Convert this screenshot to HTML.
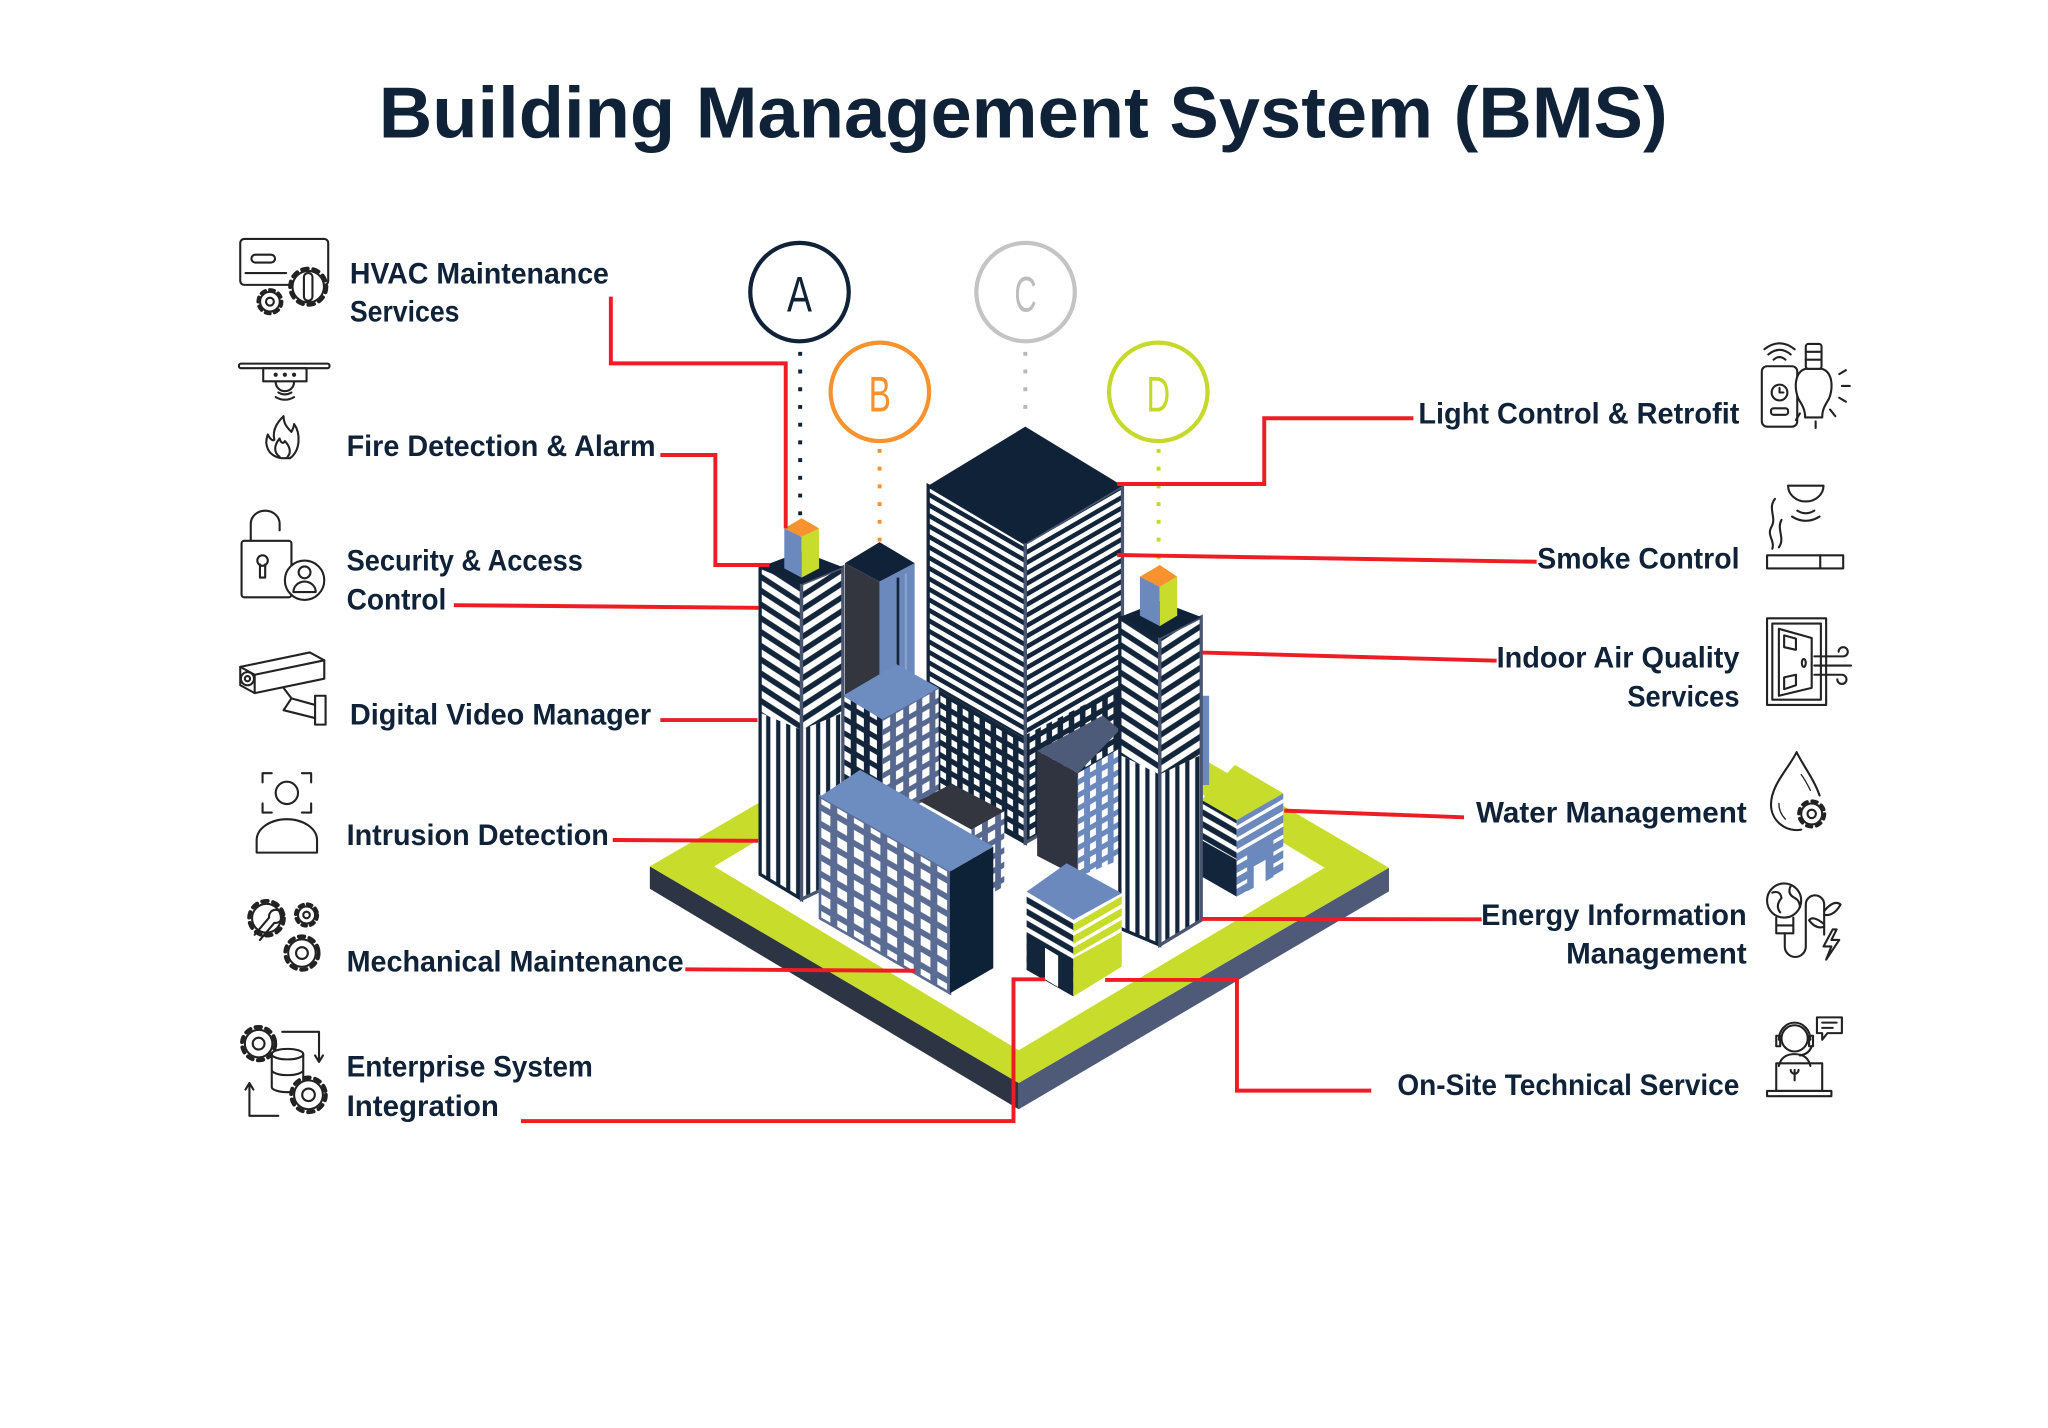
<!DOCTYPE html>
<html><head><meta charset="utf-8">
<style>html,body{margin:0;padding:0;background:#fff;overflow:hidden}svg{display:block}</style>
</head>
<body>
<svg xmlns="http://www.w3.org/2000/svg" width="2048" height="1428" viewBox="0 0 1560 1087.8" preserveAspectRatio="none">
<defs>
<pattern id="sLc" width="40" height="8" patternUnits="userSpaceOnUse" patternTransform="skewY(30)"><rect width="40" height="8" fill="#13253b"/><rect y="2.2" width="40" height="4" fill="#fff"/></pattern>
<pattern id="sRc" width="40" height="8" patternUnits="userSpaceOnUse" patternTransform="skewY(-30)"><rect width="40" height="8" fill="#13253b"/><rect y="2.2" width="40" height="4" fill="#fff"/></pattern>
<pattern id="sLa" width="40" height="10.5" patternUnits="userSpaceOnUse" patternTransform="skewY(33)"><rect width="40" height="10.5" fill="#13253b"/><rect y="2.5" width="40" height="5.5" fill="#fff"/></pattern>
<pattern id="sRa" width="40" height="10.5" patternUnits="userSpaceOnUse" patternTransform="skewY(-33)"><rect width="40" height="10.5" fill="#13253b"/><rect y="2.5" width="40" height="5.5" fill="#fff"/></pattern>
<pattern id="vs" width="7.6" height="10" patternUnits="userSpaceOnUse"><rect width="7.6" height="10" fill="#13253b"/><rect x="1.6" width="4.4" height="10" fill="#fff"/></pattern>
<pattern id="gL" width="12.7" height="12.7" patternUnits="userSpaceOnUse" patternTransform="skewY(30)"><rect width="12.7" height="12.7" fill="#5a6c93"/><rect x="2.8" y="2.6" width="7.4" height="7.6" fill="#fff"/></pattern>
<pattern id="gC" width="8.5" height="9.5" patternUnits="userSpaceOnUse" patternTransform="skewY(30)"><rect width="8.5" height="9.5" fill="#13253b"/><rect x="2.3" y="2.3" width="4.3" height="5" fill="#fff"/></pattern>
<pattern id="gCR" width="8.5" height="9.5" patternUnits="userSpaceOnUse" patternTransform="skewY(-30)"><rect width="8.5" height="9.5" fill="#13253b"/><rect x="2.3" y="2.3" width="4.3" height="5" fill="#fff"/></pattern>
<pattern id="gBn" width="10" height="11" patternUnits="userSpaceOnUse" patternTransform="skewY(30)"><rect width="10" height="11" fill="#13253b"/><rect x="2.5" y="2.5" width="5.5" height="6.5" fill="#fff"/></pattern>
<pattern id="gBb" width="10" height="11" patternUnits="userSpaceOnUse" patternTransform="skewY(-30)"><rect width="10" height="11" fill="#56688f"/><rect x="2.5" y="2.5" width="5.5" height="6.5" fill="#fff"/></pattern>
<pattern id="gMR" width="9" height="10" patternUnits="userSpaceOnUse" patternTransform="skewY(-30)"><rect width="9" height="10" fill="#6b89bd"/><rect x="2.3" y="2.3" width="4.5" height="5.5" fill="#fff"/></pattern>
<pattern id="hsN" width="40" height="9" patternUnits="userSpaceOnUse" patternTransform="skewY(30)"><rect width="40" height="9" fill="#13253b"/><rect y="2.5" width="40" height="4" fill="#fff"/></pattern>
<pattern id="hsB" width="40" height="9" patternUnits="userSpaceOnUse" patternTransform="skewY(-30)"><rect width="40" height="9" fill="#6b89bd"/><rect y="3" width="40" height="3" fill="#fff"/></pattern>
<pattern id="hsL" width="40" height="9" patternUnits="userSpaceOnUse" patternTransform="skewY(-30)"><rect width="40" height="9" fill="#c8dc2c"/><rect y="3" width="40" height="3" fill="#fff"/></pattern>
</defs>

<rect width="1560" height="1087.8" fill="#fff"/>

<!-- Title -->
<text x="288.5" y="104.6" font-family="Liberation Sans, Arial, sans-serif" font-weight="700" font-size="55" fill="#0f2238" textLength="981.8" lengthAdjust="spacingAndGlyphs">Building Management System (BMS)</text>

<!-- Platform -->
<polygon points="495,660 776,825 776,845 495,677" fill="#2d3545"/>
<polygon points="776,825 1058,661 1058,679 776,845" fill="#4e5a78"/>
<polygon points="495,660 776,496 1058,661 776,825" fill="#c8dc2c"/>
<polygon points="544,660 776,521 1009,661 776,800" fill="#fff"/>

<!-- dotted lines -->
<g stroke-width="3" stroke-dasharray="3 10.5" fill="none">
<line x1="609.5" y1="268" x2="609.5" y2="395" stroke="#0f2238"/>
<line x1="670" y1="342" x2="670" y2="413" stroke="#f7922e"/>
<line x1="781" y1="268" x2="781" y2="322" stroke="#b8b8b8"/>
<line x1="882.5" y1="342" x2="882.5" y2="430" stroke="#c5d92b"/>
</g>

<!-- Tower B (back) -->
<polygon points="643.6,429 670,443 670,620 643.6,606" fill="#33363f"/>
<polygon points="670,443 696.7,429 696.7,606 670,620" fill="#6b89bd"/>
<line x1="684" y1="440" x2="684" y2="610" stroke="#13253b" stroke-width="2"/>
<line x1="690" y1="437" x2="690" y2="608" stroke="#8aa3cf" stroke-width="1.5"/>
<polygon points="670,413 643.6,429 670,443 696.7,429" fill="#0f2238"/>

<!-- Tower C -->
<polygon points="707,370 781,414 781,563 707,521" fill="url(#sLc)"/>
<polygon points="707,521 781,563 781,642 707,600" fill="url(#gC)"/>
<polygon points="781,414 855,370 855,522 781,560" fill="url(#sRc)"/>
<polygon points="781,560 855,522 855,600 781,642" fill="url(#gCR)"/>
<polygon points="707,370 781,414 781,642 707,600" fill="none" stroke="#13253b" stroke-width="2.5"/>
<polygon points="781,414 855,370 855,600 781,642" fill="none" stroke="#4a5670" stroke-width="2.5"/>
<polygon points="781,325 707,370 781,414 855,370" fill="#0f2238"/>

<!-- B-block -->
<polygon points="642,530 672,548 672,622 642,604" fill="url(#gBn)"/>
<polygon points="672,548 715,524 715,604 672,628" fill="url(#gBb)"/>
<polygon points="642,530 683,506 715,524 672,548" fill="#6d8cc0"/>

<!-- Tower A -->
<polygon points="579,432 610.5,445 610.5,556 579,543" fill="url(#sLa)"/>
<polygon points="579,543 610.5,556 610.5,685 579,666" fill="url(#vs)"/>
<polygon points="610.5,445 642,432 642,543 610.5,556" fill="url(#sRa)"/>
<polygon points="610.5,556 642,543 642,670 610.5,685" fill="url(#vs)"/>
<polygon points="579,432 610.5,445 610.5,685 579,666" fill="none" stroke="#13253b" stroke-width="2.5"/>
<polygon points="610.5,445 642,432 642,670 610.5,685" fill="none" stroke="#4a5670" stroke-width="2.5"/>
<polygon points="610.5,420 579,432 610.5,445 642,432" fill="#0f2238"/>
<polygon points="597.4,402.5 610.6,409 610.6,440 597.4,433" fill="#6b89bd"/>
<polygon points="610.6,409 623.9,402.5 623.9,433 610.6,440" fill="#c8dc2c"/>
<polygon points="610.6,394.8 597.4,402.5 610.6,409 623.9,402.5" fill="#f7922e"/>

<!-- dark block behind big bldg -->
<polygon points="700,610 725,597 765,618 740,632" fill="#33363f"/>
<polygon points="740,632 765,618 765,675 740,690" fill="url(#gBb)"/>

<!-- mid-right building -->
<polygon points="790,572 821,589 821,668 790,652" fill="#2f3440"/>
<polygon points="821,589 853,570 853,655 821,668" fill="url(#gMR)"/>
<polygon points="790,572 840,545 853,556 821,589" fill="#4d5a78"/>

<!-- small right building -->
<polygon points="915.3,609.3 942,624.6 942,683 915.3,667.7" fill="url(#hsN)"/>
<polygon points="915.3,640 942,655 942,683 915.3,667.7" fill="#13253b"/>
<polygon points="942,624.6 977.5,604.3 977.5,665 942,683" fill="url(#hsB)"/>
<polygon points="950,650 970,639 970,668 950,679" fill="#6b89bd"/>
<polygon points="955,660 964,655 964,673 955,678" fill="#fff"/>
<polygon points="915.3,609.3 940.7,582.7 977.5,604.3 942,624.6" fill="#c8dc2c"/>

<!-- blue strip behind D -->
<rect x="914" y="530" width="7" height="68" fill="#6b89bd"/>

<!-- Tower D -->
<polygon points="853,470 883.4,486 883.4,590 853,575" fill="url(#sLa)"/>
<polygon points="853,575 883.4,590 883.4,720 853,707" fill="url(#vs)"/>
<polygon points="883.4,486 915,470 915,575 883.4,590" fill="url(#sRa)"/>
<polygon points="883.4,590 915,575 915,701 883.4,720" fill="url(#vs)"/>
<polygon points="853,470 883.4,486 883.4,720 853,707" fill="none" stroke="#13253b" stroke-width="2.5"/>
<polygon points="883.4,486 915,470 915,701 883.4,720" fill="none" stroke="#4a5670" stroke-width="2.5"/>
<polygon points="883.4,458 853,470 883.4,486 915,470" fill="#0f2238"/>
<polygon points="868.3,439.3 883.4,447 883.4,477 868.3,469" fill="#6b89bd"/>
<polygon points="883.4,447 896.7,439.3 896.7,469 883.4,477" fill="#c8dc2c"/>
<polygon points="883.4,430.4 868.3,439.3 883.4,447 896.7,439.3" fill="#f7922e"/>

<!-- Big front-left building -->
<polygon points="624.6,606.8 723.6,663.9 723.6,756.6 624.6,699.5" fill="url(#gL)"/>
<polygon points="624.6,606.8 723.6,663.9 723.6,756.6 624.6,699.5" fill="none" stroke="#5a6c93" stroke-width="2"/>
<polygon points="723.6,663.9 756.6,644.9 756.6,737.5 723.6,756.6" fill="#0d2137"/>
<polygon points="624.6,606.8 655.1,586.5 756.6,644.9 723.6,663.9" fill="#6d8cc0"/>

<!-- Small front building -->
<polygon points="782,679.2 817.6,700.7 817.6,759 782,738.8" fill="url(#hsN)"/>
<polygon points="782,712 817.6,733 817.6,759 782,738.8" fill="#13253b"/>
<polygon points="796,722 806,728 806,752 796,746" fill="#fff"/>
<polygon points="817.6,700.7 854.4,680.4 854.4,736.3 817.6,759" fill="url(#hsL)"/>
<polygon points="817.6,730 854.4,710 854.4,736.3 817.6,759" fill="#c8dc2c"/>
<polygon points="782,679.2 812.5,657.6 854.4,680.4 817.6,700.7" fill="#6b89bd"/>

<!-- Red connector lines -->
<g stroke="#ee1c24" stroke-width="3" fill="none" stroke-linejoin="miter">
<polyline points="465.3,226 465.3,276.8 598.5,276.8 598.5,402.5"/>
<polyline points="503,346.6 544.9,346.6 544.9,430.4 586,430.4"/>
<line x1="345.7" y1="461" x2="578" y2="463"/>
<line x1="503" y1="548.5" x2="577" y2="548.5"/>
<line x1="466.7" y1="639.9" x2="577.5" y2="640.5"/>
<line x1="522" y1="738.4" x2="697" y2="739.5"/>
<polyline points="396.8,854 772,854 772,746 796,746"/>
<polyline points="851,368.7 963,368.7 963,318.6 1076.6,318.6"/>
<line x1="851" y1="422.8" x2="1170.5" y2="427.9"/>
<line x1="915.7" y1="497.1" x2="1140" y2="503.3"/>
<line x1="978.2" y1="617.5" x2="1115.2" y2="622.6"/>
<line x1="915.7" y1="700" x2="1128.6" y2="700.3"/>
<polyline points="841.8,746.5 942.2,746.5 942.2,830.8 1044.5,830.8"/>
</g>

<!-- Circles -->
<g fill="#fff" stroke-width="3.2">
<circle cx="609" cy="222.5" r="37.5" stroke="#0f2238"/>
<circle cx="670.2" cy="298.5" r="37.5" stroke="#f7922e"/>
<circle cx="781.2" cy="222.5" r="37.5" stroke="#c4c4c4"/>
<circle cx="882.3" cy="298.5" r="37.5" stroke="#c5d92b"/>
</g>
<g font-family="Liberation Sans, Arial, sans-serif" font-size="38" text-anchor="middle">
<text x="609" y="237.4" fill="#0f2238" textLength="19" lengthAdjust="spacingAndGlyphs">A</text>
<text x="670.2" y="313.6" fill="#f7922e" textLength="17" lengthAdjust="spacingAndGlyphs">B</text>
<text x="781.2" y="237.4" fill="#bdbdbd" textLength="17" lengthAdjust="spacingAndGlyphs">C</text>
<text x="882.3" y="313.6" fill="#c5d92b" textLength="18" lengthAdjust="spacingAndGlyphs">D</text>
</g>

<!-- Labels -->
<g font-family="Liberation Sans, Arial, sans-serif" font-weight="700" font-size="22.5" fill="#0f2238" lengthAdjust="spacingAndGlyphs">
<text x="266.5" y="215.8" textLength="197.3" lengthAdjust="spacingAndGlyphs">HVAC Maintenance</text>
<text x="266.5" y="245" textLength="83.5" lengthAdjust="spacingAndGlyphs">Services</text>
<text x="264" y="347.4" textLength="235.4" lengthAdjust="spacingAndGlyphs">Fire Detection &amp; Alarm</text>
<text x="264" y="434.7" textLength="180" lengthAdjust="spacingAndGlyphs">Security &amp; Access</text>
<text x="264" y="464.2" textLength="76" lengthAdjust="spacingAndGlyphs">Control</text>
<text x="266.5" y="551.8" textLength="229.5" lengthAdjust="spacingAndGlyphs">Digital Video Manager</text>
<text x="264" y="643.7" textLength="199.8" lengthAdjust="spacingAndGlyphs">Intrusion Detection</text>
<text x="264" y="740.2" textLength="256.7" lengthAdjust="spacingAndGlyphs">Mechanical Maintenance</text>
<text x="264" y="820" textLength="187.6" lengthAdjust="spacingAndGlyphs">Enterprise System</text>
<text x="264" y="850" textLength="116" lengthAdjust="spacingAndGlyphs">Integration</text>

<text x="1080.4" y="322.5" textLength="244.5" lengthAdjust="spacingAndGlyphs">Light Control &amp; Retrofit</text>
<text x="1171" y="433" textLength="154" lengthAdjust="spacingAndGlyphs">Smoke Control</text>
<text x="1140" y="508.6" textLength="185" lengthAdjust="spacingAndGlyphs">Indoor Air Quality</text>
<text x="1239.6" y="538.3" textLength="85.4" lengthAdjust="spacingAndGlyphs">Services</text>
<text x="1124.3" y="626.7" textLength="206.2" lengthAdjust="spacingAndGlyphs">Water Management</text>
<text x="1128.2" y="704.6" textLength="202.3" lengthAdjust="spacingAndGlyphs">Energy Information</text>
<text x="1192.9" y="733.8" textLength="137.6" lengthAdjust="spacingAndGlyphs">Management</text>
<text x="1064.4" y="834.1" textLength="260.5" lengthAdjust="spacingAndGlyphs">On-Site Technical Service</text>
</g>

<!-- Icons -->
<g fill="none" stroke="#222" stroke-width="1.6" stroke-linecap="round" stroke-linejoin="round">
<!-- HVAC -->
<rect x="183" y="182" width="67" height="35" rx="3"/>
<rect x="191.5" y="194" width="18" height="6" rx="3"/>
<line x1="187" y1="208" x2="218" y2="208"/>
<circle cx="234.8" cy="218.4" r="12" fill="#fff"/>
<circle cx="234.8" cy="218.4" r="13.8" stroke-width="3" stroke-dasharray="4.3 4.3"/>
<rect x="231.5" y="208" width="6.5" height="21" rx="3"/>
<circle cx="205.6" cy="229.8" r="7.5" fill="#fff"/>
<circle cx="205.6" cy="229.8" r="9" stroke-width="2.6" stroke-dasharray="3.5 3.5"/>
<circle cx="205.6" cy="229.8" r="3"/>

<!-- Fire -->
<rect x="182" y="277" width="69" height="3.5" rx="1.5"/>
<rect x="200.5" y="280.5" width="33" height="10"/>
<circle cx="210" cy="285.5" r="0.8" fill="#222"/><circle cx="217" cy="285.5" r="0.8" fill="#222"/><circle cx="224" cy="285.5" r="0.8" fill="#222"/>
<path d="M210,291 A7,7 0 0 0 224,291"/>
<path d="M212,299 Q217,302 222,299 M210,302.5 Q217,306.5 224,302.5"/>
<path d="M214,349 C204,347 201,339 204,331 C206,335 208,336 209,335 C207,327 212,321 216,317 C216,323 219,326 222,329 C223,327 224,325 224,323 C229,330 229,343 221,349 Z"/>
<path d="M213,348 C208,344 209,339 213,334 C214,338 216,338 217,336 C221,340 222,345 219,348"/>

<!-- Lock -->
<path d="M191,412 V399 A11,10 0 0 1 213,399 V404"/>
<rect x="184" y="412" width="38" height="43" rx="2"/>
<circle cx="200" cy="427" r="4"/><path d="M198,430 V440 H202 V430"/>
<circle cx="232" cy="442" r="15" fill="#fff"/>
<circle cx="232" cy="436" r="4.5"/>
<path d="M223.5,451 A8.5,8 0 0 1 240.5,451 Z"/>

<!-- Camera -->
<path d="M183,508 L236,497 L247,503 L247,517 L194,528 L183,522 Z"/>
<path d="M183,508 L194,514 L247,503 M194,514 V528"/>
<circle cx="188.5" cy="517" r="5"/><circle cx="188.5" cy="517" r="2"/>
<path d="M216,524 L222,532 L240,537 M222,532 L216,541 L240,547"/>
<rect x="240" y="530" width="8" height="22"/>

<!-- Intrusion -->
<path d="M200,596 V589 H207 M230,589 H237 V596 M237,612 V619 H230 M207,619 H200 V612"/>
<circle cx="218.5" cy="604" r="8.5"/>
<path d="M195.5,649.5 V640 A23,16 0 0 1 241.5,640 V649.5 Z"/>

<!-- Mechanical -->
<circle cx="203" cy="699.5" r="11"/>
<circle cx="203" cy="699.5" r="13.2" stroke-width="3" stroke-dasharray="4.2 4.2"/>
<path d="M194,712 L205,699 A5,5 0 1 1 209,703 L198,716"/>
<circle cx="233.5" cy="697" r="6.5"/>
<circle cx="233.5" cy="697" r="8.3" stroke-width="2.6" stroke-dasharray="3.3 3.3"/>
<circle cx="233.5" cy="697" r="2.5"/>
<circle cx="230" cy="726" r="10.5"/>
<circle cx="230" cy="726" r="12.7" stroke-width="3" stroke-dasharray="4.1 4.1"/>
<circle cx="230" cy="726" r="4.5"/>

<!-- Enterprise -->
<circle cx="197" cy="795" r="10.5"/>
<circle cx="197" cy="795" r="12.7" stroke-width="3" stroke-dasharray="4.1 4.1"/>
<circle cx="197" cy="795" r="4.5"/>
<ellipse cx="219" cy="803" rx="12" ry="4" fill="#fff"/>
<path d="M207,803 V828 A12,4 0 0 0 231,828 V803 M207,815 A12,4 0 0 0 231,815"/>
<path d="M215,786 H243 V808 M240,804 L243,809 L246,804"/>
<path d="M212,850 H190 V826 M187,830 L190,825 L193,830"/>
<circle cx="235" cy="834" r="11" fill="#fff"/>
<circle cx="235" cy="834" r="13.2" stroke-width="3" stroke-dasharray="4.2 4.2"/>
<circle cx="235" cy="834" r="4.8"/>

<!-- Light -->
<rect x="1342" y="279" width="27" height="46" rx="4"/>
<circle cx="1355.5" cy="299" r="6"/><path d="M1355.5,295.5 V299 H1358.5"/>
<rect x="1349" y="311" width="13" height="5" rx="2"/>
<path d="M1351,274 Q1355.5,270 1360,274 M1347,270 Q1355.5,263 1364,270 M1344,266 Q1355.5,257 1367,266"/>
<path d="M1375,281 C1366,284 1367,298 1370,304 C1373,309 1375,312 1375,318 H1388 C1388,312 1390,309 1393,304 C1396,298 1397,284 1388,281 Z" fill="#fff"/>
<rect x="1375.5" y="262" width="12" height="19" rx="2"/>
<path d="M1375.5,268 H1387.5 M1375.5,274 H1387.5"/>
<path d="M1401,285 L1406,282 M1403,294 H1409 M1401,303 L1406,306 M1394,312 L1398,317 M1383,321 V326 M1371,315 L1368,320"/>

<!-- Smoke -->
<path d="M1362,370 H1389 A13.5,12 0 0 1 1362,370 Z"/>
<path d="M1369,389 Q1375.5,393 1382,389 M1365,393.5 Q1375.5,400 1386,393.5"/>
<path d="M1352,380 C1346,388 1354,394 1349,402 C1346,408 1352,412 1350,418 M1357,396 C1353,403 1360,410 1355,417"/>
<rect x="1346" y="423" width="58" height="10"/>
<line x1="1386.5" y1="423" x2="1386.5" y2="433"/>

<!-- IAQ -->
<rect x="1346" y="471" width="45" height="66"/>
<rect x="1350" y="475" width="37" height="58"/>
<path d="M1355,479 L1380,486 V524 L1355,530 Z"/>
<path d="M1359,484 L1368,486.5 V495 L1359,493 Z M1359,516 L1368,514 V522 L1359,525 Z"/>
<ellipse cx="1374" cy="505" rx="1.5" ry="3"/>
<path d="M1382,500 H1404 A3.5,3.5 0 1 0 1400.5,496.5 M1382,507 H1410 M1382,514 H1403 A3.5,3.5 0 1 1 1399.5,517.5" fill="none"/>

<!-- Water -->
<path d="M1368.5,573 C1362,586 1349,598 1349,613 A19.5,19.5 0 0 0 1372,632"/>
<path d="M1368.5,573 C1374,584 1382,594 1386,606"/>
<path d="M1372,590 C1375,594 1377,598 1379,602 M1355,612 C1355,617 1357,621 1360,624" stroke-width="1"/>
<circle cx="1380" cy="620" r="8" fill="#fff"/>
<circle cx="1380" cy="620" r="9.8" stroke-width="2.6" stroke-dasharray="3.85 3.85"/>
<circle cx="1380" cy="620" r="3.2"/>

<!-- Energy -->
<circle cx="1359" cy="686" r="13"/>
<path d="M1350,680 Q1356,678 1357,684 Q1352,690 1356,695 M1364,675 Q1361,681 1367,684 Q1371,686 1371,691"/>
<path d="M1353,699 V711 H1366 V699 M1353,705 H1366"/>
<path d="M1359.5,711 V721 A8,8 0 0 0 1375.5,721 V689 A7,7 0 0 1 1389.5,689 V712"/>
<path d="M1389.5,694 Q1397,685 1402,689 Q1397,698 1389.5,697 M1389.5,704 Q1381,697 1378,701 Q1383,708 1389.5,706"/>
<path d="M1396,708 L1389,721 H1395 L1391,731 L1401,716 H1395 L1399,708 Z"/>

<!-- On-site -->
<circle cx="1367" cy="791" r="10"/>
<path d="M1355,792 A12,13 0 0 1 1379,792"/>
<rect x="1353" y="789" width="3" height="8"/><rect x="1378" y="789" width="3" height="8"/>
<path d="M1380,797 Q1378,803 1371,804"/>
<path d="M1355,812 Q1357,803 1367,803 Q1377,803 1379,812"/>
<path d="M1384,775 H1403 V787 H1392 L1388,792 V787 H1384 Z"/>
<path d="M1388,779 H1399 M1388,783 H1396"/>
<rect x="1353" y="810" width="35" height="21"/>
<path d="M1346,831 H1395 V835 H1346 Z"/>
<path d="M1367,815 V823 M1364,815 A3,3 0 0 0 1370,815"/>
</g>
</svg>
</body></html>
